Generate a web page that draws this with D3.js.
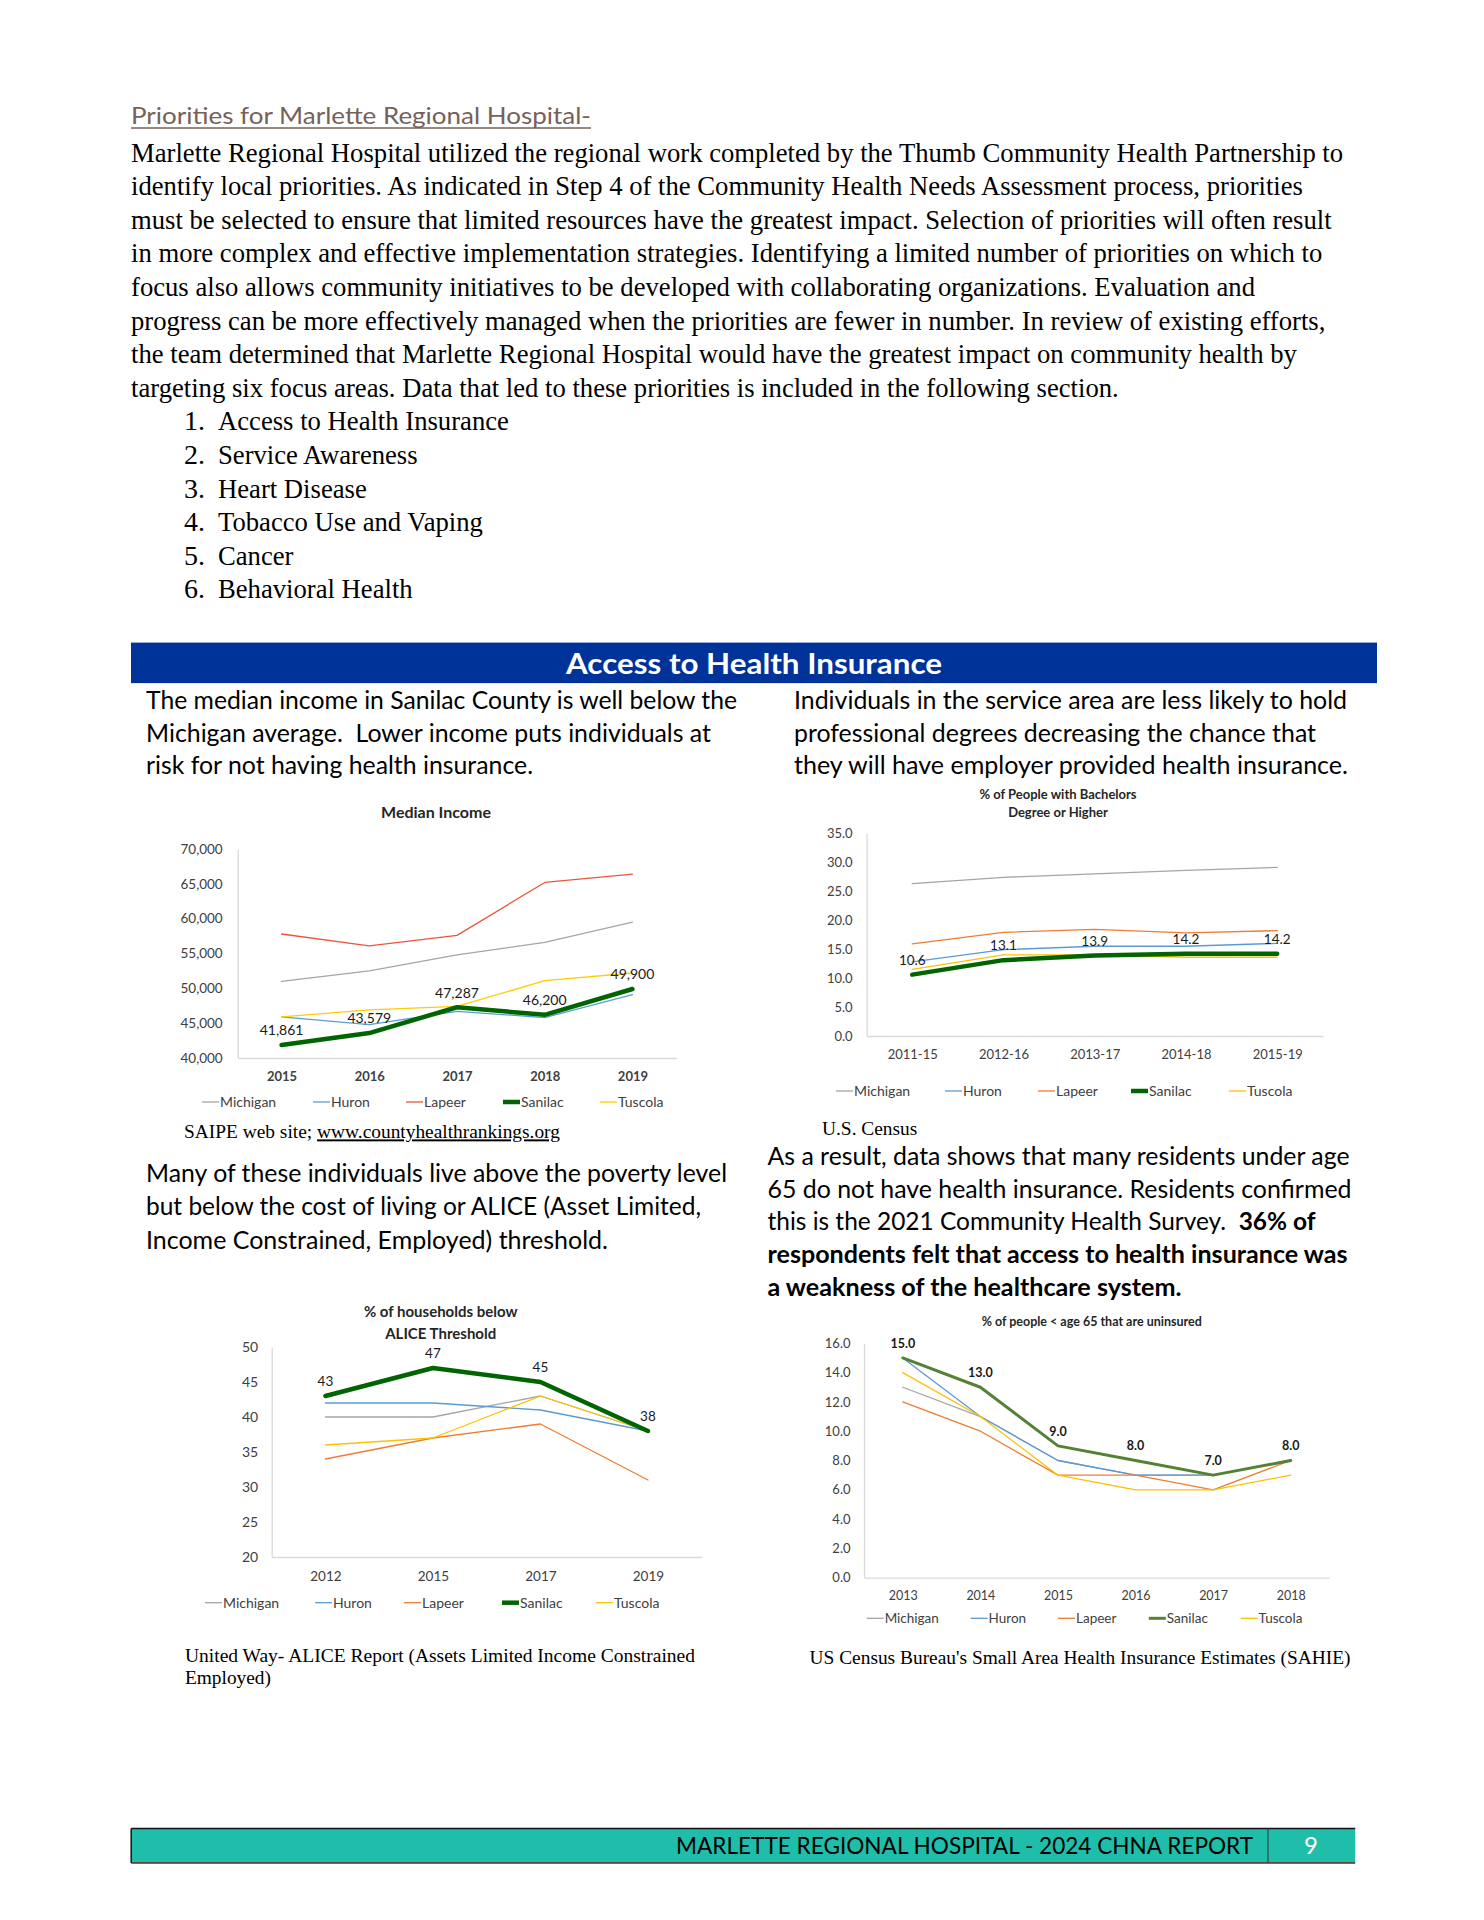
<!DOCTYPE html>
<html>
<head>
<meta charset="utf-8">
<script src="https://cdn.jsdelivr.net/npm/d3@7"></script>
<style>
body { margin: 0; background: #fff; }
svg { display: block; background: #fff; }
text { white-space: pre; }
</style>
</head>
<body>
<svg id="page"></svg>
<script>
var pageWidth = 1484;
var pageHeight = 1920;

var seriesNames = ['Michigan', 'Huron', 'Lapeer', 'Sanilac', 'Tuscola'];

// Median Income
var incomeYears = ['2015', '2016', '2017', '2018', '2019'];
var incomeMichigan = [51000, 52500, 54800, 56600, 59500];
var incomeHuron = [45900, 44800, 46700, 45800, 49100];
var incomeLapeer = [57800, 56100, 57600, 65200, 66400];
var incomeSanilac = [41861, 43579, 47287, 46200, 49900];
var incomeTuscola = [45900, 46900, 47400, 51100, 52200];
var incomeTicks = [40000, 45000, 50000, 55000, 60000, 65000, 70000];

// % with bachelors degree or higher
var degreeYears = ['2011-15', '2012-16', '2013-17', '2014-18', '2015-19'];
var degreeMichigan = [26.3, 27.4, 28.0, 28.6, 29.1];
var degreeHuron = [12.8, 14.9, 15.5, 15.5, 16.0];
var degreeLapeer = [15.9, 17.9, 18.4, 17.8, 18.2];
var degreeSanilac = [10.6, 13.1, 13.9, 14.2, 14.2];
var degreeTuscola = [11.5, 14.0, 14.0, 13.6, 13.6];
var degreeTicks = [0, 5, 10, 15, 20, 25, 30, 35];

// % of households below ALICE threshold
var aliceYears = ['2012', '2015', '2017', '2019'];
var aliceMichigan = [40, 40, 43, 38];
var aliceHuron = [42, 42, 41, 38];
var aliceLapeer = [34, 37, 39, 31];
var aliceSanilac = [43, 47, 45, 38];
var aliceTuscola = [36, 37, 43, 38];
var aliceTicks = [20, 25, 30, 35, 40, 45, 50];

// % of people < 65 uninsured
var uninsYears = ['2013', '2014', '2015', '2016', '2017', '2018'];
var uninsMichigan = [13, 11, 8, 7, 7, 8];
var uninsHuron = [15, 11, 8, 7, 7, 8];
var uninsLapeer = [12, 10, 7, 7, 6, 8];
var uninsSanilac = [15, 13, 9, 8, 7, 8];
var uninsTuscola = [14, 11, 7, 6, 6, 7];
var uninsTicks = [0, 2, 4, 6, 8, 10, 12, 14, 16];

var bodyLines = [
	'Marlette Regional Hospital utilized the regional work completed by the Thumb Community Health Partnership to',
	'identify local priorities. As indicated in Step 4 of the Community Health Needs Assessment process, priorities',
	'must be selected to ensure that limited resources have the greatest impact. Selection of priorities will often result',
	'in more complex and effective implementation strategies. Identifying a limited number of priorities on which to',
	'focus also allows community initiatives to be developed with collaborating organizations. Evaluation and',
	'progress can be more effectively managed when the priorities are fewer in number. In review of existing efforts,',
	'the team determined that Marlette Regional Hospital would have the greatest impact on community health by',
	'targeting six focus areas. Data that led to these priorities is included in the following section.'
];
var priorities = ['Access to Health Insurance', 'Service Awareness', 'Heart Disease',
	'Tobacco Use and Vaping', 'Cancer', 'Behavioral Health'];

var svg = d3.select('#page')
	.attr('width', pageWidth)
	.attr('height', pageHeight);

var sans = 'Lato, "Open Sans", sans-serif';
var serif = '"Liberation Serif", "Times New Roman", serif';

// plain text line helper; w = width to fit (Calibri look-alike)
function textLine(x, y, str, size, opts) {
	opts = opts || {};
	var t = svg.append('text')
		.attr('x', x)
		.attr('y', y)
		.attr('font-family', opts.family || sans)
		.attr('font-size', size)
		.attr('font-weight', opts.weight || 'normal')
		.attr('fill', opts.color || '#000')
		.attr('text-anchor', opts.anchor || 'start')
		.text(str);
	if (opts.w) {
		t.attr('textLength', opts.w).attr('lengthAdjust', 'spacingAndGlyphs');
	}
	if (opts.squeeze) {
		var len = t.node().getComputedTextLength();
		t.attr('textLength', len * opts.squeeze).attr('lengthAdjust', 'spacingAndGlyphs');
	}
	return t;
}

// ---- top section ----
textLine(131, 124, 'Priorities for Marlette Regional Hospital-', 23, {color: '#76615A', w: 460});
svg.append('line')
	.attr('x1', 131).attr('x2', 591)
	.attr('y1', 128).attr('y2', 128)
	.attr('stroke', '#76615A').attr('stroke-width', 1.5);

bodyLines.forEach(function(l, i) {
	textLine(131, 161.6 + i * 33.6, l, 28, {family: serif, squeeze: 0.952});
});
priorities.forEach(function(p, i) {
	var y = 430.4 + i * 33.6;
	textLine(184, y, (i + 1) + '.', 28, {family: serif});
	textLine(218, y, p, 28, {family: serif, squeeze: 0.952});
});

// ---- banner ----
svg.append('rect')
	.attr('x', 131).attr('y', 642.6)
	.attr('width', 1246).attr('height', 40.5)
	.attr('fill', '#003399');
textLine(754, 673.5, 'Access to Health Insurance', 28, {weight: 'bold', color: '#fff', anchor: 'middle', w: 376});

// ---- intro paragraphs ----
textLine(146, 709, 'The median income in Sanilac County is well below the', 25, {w: 591});
textLine(146, 741.5, 'Michigan average.  Lower income puts individuals at', 25, {w: 565});
textLine(146, 774, 'risk for not having health insurance.', 25, {w: 387});
textLine(794, 709, 'Individuals in the service area are less likely to hold', 25, {w: 553});
textLine(794, 741.5, 'professional degrees decreasing the chance that', 25, {w: 522});
textLine(794, 774, 'they will have employer provided health insurance.', 25, {w: 554});

// ---- charts ----
function drawChart(c) {
	var g = svg.append('g');
	var x = d3.scalePoint()
		.domain(c.cats)
		.range([c.left, c.right])
		.padding(0.5);
	var y = d3.scaleLinear()
		.domain(c.yDomain)
		.range([c.bottom, c.top]);

	var yAxis = d3.axisLeft(y)
		.tickValues(c.ticks)
		.tickFormat(c.fmt)
		.tickSize(0)
		.tickSizeOuter(0)
		.tickPadding(c.yPad);
	var xAxis = d3.axisBottom(x)
		.tickSize(0)
		.tickSizeOuter(0)
		.tickPadding(c.xPad);

	var ya = g.append('g')
		.attr('transform', `translate(${c.left},0)`)
		.call(yAxis);
	var xa = g.append('g')
		.attr('transform', `translate(0,${c.bottom})`)
		.call(xAxis);
	[ya, xa].forEach(function(a) {
		a.select('.domain').attr('stroke', '#D9D9D9').attr('stroke-width', 1.3);
		a.attr('font-family', sans).attr('fill', 'none');
		a.selectAll('text').attr('fill', '#404040');
	});
	ya.attr('font-size', c.yFont);
	xa.attr('font-size', c.xFont).attr('font-weight', c.xBold ? 'bold' : 'normal');

	// title
	c.title.forEach(function(t, i) {
		g.append('text')
			.attr('x', c.titleX)
			.attr('y', c.titleY[i])
			.attr('dy', '0.35em')
			.attr('text-anchor', 'middle')
			.attr('font-family', sans)
			.attr('font-size', c.titleFont)
			.attr('font-weight', 'bold')
			.attr('fill', '#262626')
			.text(t);
	});

	var line = d3.line()
		.x((d, i) => x(c.cats[i]))
		.y(d => y(d));

	// Sanilac drawn last so it sits on top
	var order = [0, 1, 2, 4, 3];
	order.forEach(function(k) {
		g.append('path')
			.datum(c.series[k])
			.attr('d', line)
			.attr('fill', 'none')
			.attr('stroke', c.colors[k])
			.attr('stroke-width', k == 3 ? c.mainWidth : 1.3)
			.attr('stroke-linejoin', 'round')
			.attr('stroke-linecap', 'round');
	});

	g.selectAll('.lbl')
		.data(c.series[3])
		.enter()
		.append('text')
		.attr('x', (d, i) => x(c.cats[i]))
		.attr('y', d => y(d) - 14.5)
		.attr('dy', '0.35em')
		.attr('text-anchor', 'middle')
		.attr('font-family', sans)
		.attr('font-size', c.lblFont)
		.attr('font-weight', c.lblBold ? 'bold' : 'normal')
		.attr('fill', '#1a1a1a')
		.text(d => c.fmtLbl(d));

	// legend
	seriesNames.forEach(function(n, k) {
		g.append('line')
			.attr('x1', c.legX[k]).attr('x2', c.legX[k] + 17)
			.attr('y1', c.legY).attr('y2', c.legY)
			.attr('stroke', c.colors[k])
			.attr('stroke-width', k == 3 ? c.mainWidth : 1.3);
		g.append('text')
			.attr('x', c.legX[k] + 18)
			.attr('y', c.legY)
			.attr('dy', '0.35em')
			.attr('font-family', sans)
			.attr('font-size', c.legFont)
			.attr('fill', '#404040')
			.text(n);
	});
}

drawChart({
	cats: incomeYears,
	series: [incomeMichigan, incomeHuron, incomeLapeer, incomeSanilac, incomeTuscola],
	colors: ['#A5A5A5', '#5B9BD5', '#E9573B', '#006400', '#FFCC00'],
	mainWidth: 4.5,
	yDomain: [40000, 70000], ticks: incomeTicks, fmt: d3.format(','), fmtLbl: d3.format(','),
	left: 237.7, right: 676.3, top: 849, bottom: 1058,
	yPad: 15, xPad: 14, yFont: 13.5, xFont: 13, xBold: true,
	title: ['Median Income'], titleX: 436, titleY: [812], titleFont: 16,
	lblFont: 14, lblBold: false,
	legX: [202, 313, 406, 503, 600], legY: 1102, legFont: 14
});

drawChart({
	cats: degreeYears,
	series: [degreeMichigan, degreeHuron, degreeLapeer, degreeSanilac, degreeTuscola],
	colors: ['#A5A5A5', '#5B9BD5', '#ED7D31', '#006400', '#FFC000'],
	mainWidth: 4.5,
	yDomain: [0, 35], ticks: degreeTicks, fmt: d3.format('.1f'), fmtLbl: d3.format('.1f'),
	left: 866.6, right: 1322.8, top: 833.3, bottom: 1036,
	yPad: 14, xPad: 14, yFont: 13, xFont: 13, xBold: false,
	title: ['% of People with Bachelors', 'Degree or Higher'], titleX: 1058, titleY: [794.3, 812.3], titleFont: 13,
	lblFont: 13.5, lblBold: false,
	legX: [836, 945, 1038, 1131, 1229], legY: 1091, legFont: 14
});

drawChart({
	cats: aliceYears,
	series: [aliceMichigan, aliceHuron, aliceLapeer, aliceSanilac, aliceTuscola],
	colors: ['#A5A5A5', '#5B9BD5', '#ED7D31', '#006400', '#FFC000'],
	mainWidth: 4.5,
	yDomain: [20, 50], ticks: aliceTicks, fmt: d3.format('d'), fmtLbl: d3.format('d'),
	left: 271.7, right: 701.7, top: 1347, bottom: 1557,
	yPad: 13.5, xPad: 14, yFont: 14, xFont: 13.5, xBold: false,
	title: ['% of households below', 'ALICE Threshold'], titleX: 440.7, titleY: [1311.7, 1333.3], titleFont: 15,
	lblFont: 13.5, lblBold: false,
	legX: [205, 315, 404, 502, 596], legY: 1602.7, legFont: 14
});

drawChart({
	cats: uninsYears,
	series: [uninsMichigan, uninsHuron, uninsLapeer, uninsSanilac, uninsTuscola],
	colors: ['#A5A5A5', '#5B9BD5', '#ED7D31', '#548235', '#FFC000'],
	mainWidth: 3,
	yDomain: [0, 16], ticks: uninsTicks, fmt: d3.format('.1f'), fmtLbl: d3.format('.1f'),
	left: 864, right: 1329.5, top: 1343.3, bottom: 1577.7,
	yPad: 13.5, xPad: 13, yFont: 13, xFont: 12.5, xBold: false,
	title: ['% of people < age 65 that are uninsured'], titleX: 1091.7, titleY: [1321.7], titleFont: 12.5,
	lblFont: 12.5, lblBold: true,
	legX: [866.7, 970.6, 1058, 1148.8, 1240.6], legY: 1618.3, legFont: 13.5
});

// ---- sources ----
var src = textLine(184, 1138.4, 'SAIPE web site; ', 19.4, {family: serif});
src.append('tspan').attr('text-decoration', 'underline').text('www.countyhealthrankings.org');
textLine(822, 1134.7, 'U.S. Census', 19.4, {family: serif});
textLine(185, 1662, 'United Way- ALICE Report (Assets Limited Income Constrained', 19.4, {family: serif, w: 510});
textLine(185, 1684, 'Employed)', 19.4, {family: serif, w: 86});
textLine(809.5, 1664.4, 'US Census Bureau\'s Small Area Health Insurance Estimates (SAHIE)', 19.4, {family: serif, w: 541});

// ---- middle paragraphs ----
textLine(146, 1182.3, 'Many of these individuals live above the poverty level', 25, {w: 581});
textLine(146, 1215.4, 'but below the cost of living or ALICE (Asset Limited,', 25, {w: 555});
textLine(146, 1248.5, 'Income Constrained, Employed) threshold.', 25, {w: 462});

textLine(767.5, 1165, 'As a result, data shows that many residents under age', 25, {w: 582});
textLine(767.5, 1197.5, '65 do not have health insurance. Residents confirmed', 25, {w: 584});
var mix = textLine(767.5, 1230, 'this is the 2021 Community Health Survey.  ', 25, {});
mix.append('tspan').attr('font-weight', 'bold').text('36% of');
mix.attr('textLength', 548).attr('lengthAdjust', 'spacingAndGlyphs');
textLine(767.5, 1263, 'respondents felt that access to health insurance was', 25, {weight: 'bold', w: 580});
textLine(767.5, 1295.5, 'a weakness of the healthcare system.', 25, {weight: 'bold', w: 414});

// ---- footer ----
svg.append('rect')
	.attr('x', 131.2).attr('y', 1828.5)
	.attr('width', 1224).attr('height', 34.5)
	.attr('fill', '#1FBEAB');
svg.append('line')
	.attr('x1', 131.2).attr('x2', 1355.2).attr('y1', 1828.5).attr('y2', 1828.5)
	.attr('stroke', '#111').attr('stroke-width', 1.5);
svg.append('line')
	.attr('x1', 131.2).attr('x2', 1355.2).attr('y1', 1863).attr('y2', 1863)
	.attr('stroke', '#7A1F1F').attr('stroke-width', 1.5);
svg.append('line')
	.attr('x1', 131.2).attr('x2', 131.2).attr('y1', 1828.5).attr('y2', 1863)
	.attr('stroke', '#111').attr('stroke-width', 1.5);
svg.append('line')
	.attr('x1', 1268).attr('x2', 1268).attr('y1', 1828.5).attr('y2', 1863)
	.attr('stroke', '#333').attr('stroke-width', 1);
textLine(676, 1854, 'MARLETTE REGIONAL HOSPITAL - 2024 CHNA REPORT', 24, {w: 577});
textLine(1311, 1854, '9', 24, {color: '#fff', anchor: 'middle'});
</script>
</body>
</html>
